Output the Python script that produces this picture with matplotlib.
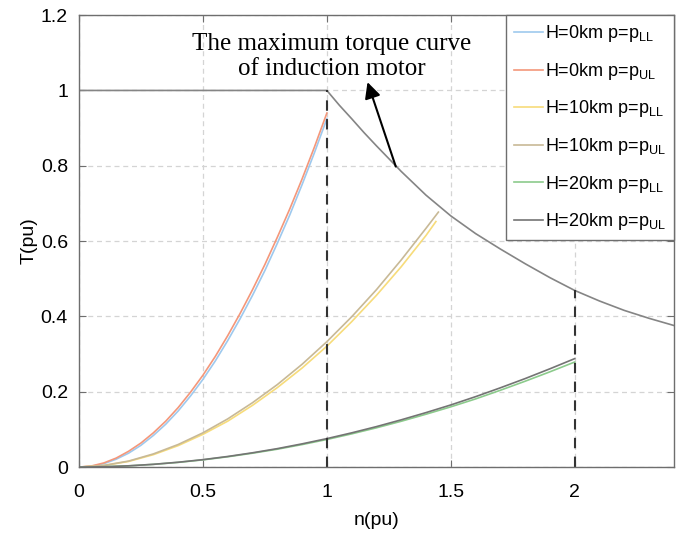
import matplotlib
matplotlib.use('Agg')
import matplotlib.pyplot as plt
from matplotlib.ticker import FuncFormatter

# speed grids (pu)
n_0km = [0.0, 0.05, 0.1, 0.15, 0.2, 0.25, 0.3, 0.35, 0.4, 0.45, 0.5,
         0.55, 0.6, 0.65, 0.7, 0.75, 0.8, 0.85, 0.9, 0.95, 1.0]
n_10km_ul = [0.0, 0.1, 0.2, 0.3, 0.4, 0.5, 0.6, 0.7, 0.8, 0.9, 1.0, 1.1, 1.2, 1.3, 1.4, 1.45]
n_10km_ll = [0.0, 0.1, 0.2, 0.3, 0.4, 0.5, 0.6, 0.7, 0.8, 0.9, 1.0, 1.1, 1.2, 1.3, 1.4, 1.44]
n_20km = [0.0, 0.1, 0.2, 0.3, 0.4, 0.5, 0.6, 0.7, 0.8, 0.9, 1.0,
          1.1, 1.2, 1.3, 1.4, 1.5, 1.6, 1.7, 1.8, 1.9, 2.0]

# torque curves (pu)
t_0km_ll = [0, 0.002, 0.009, 0.021, 0.037, 0.058, 0.084, 0.114, 0.149, 0.189, 0.233,
            0.282, 0.336, 0.394, 0.456, 0.522, 0.594, 0.669, 0.750, 0.835, 0.925]
t_0km_ul = [0, 0.003, 0.011, 0.024, 0.042, 0.064, 0.091, 0.122, 0.158, 0.199, 0.244,
            0.294, 0.349, 0.408, 0.471, 0.538, 0.610, 0.685, 0.765, 0.850, 0.940]
t_10km_ll = [0, 0.004, 0.015, 0.033, 0.057, 0.087, 0.122, 0.164, 0.211, 0.263,
             0.321, 0.386, 0.456, 0.532, 0.615, 0.652]
t_10km_ul = [0, 0.0045, 0.016, 0.035, 0.060, 0.091, 0.128, 0.171, 0.219, 0.273,
             0.333, 0.399, 0.471, 0.550, 0.634, 0.677]
t_20km_ll = [0, 0.0009, 0.0033, 0.0072, 0.0125, 0.0192, 0.0274, 0.0369, 0.0475, 0.0598,
             0.0733, 0.0882, 0.1043, 0.1217, 0.1404, 0.160, 0.181, 0.204, 0.228, 0.253, 0.279]
t_20km_ul = [0, 0.0009, 0.0034, 0.0074, 0.0129, 0.0198, 0.0282, 0.038, 0.049, 0.0617,
             0.0756, 0.0909, 0.1075, 0.1255, 0.1447, 0.165, 0.187, 0.2105, 0.235, 0.261, 0.288]

# maximum torque curve of the induction motor
n_max = [0.0, 1.0, 1.05, 1.1, 1.15, 1.2, 1.3, 1.4, 1.5, 1.6, 1.7, 1.8, 1.9, 2.0,
         2.1, 2.2, 2.3, 2.4]
t_max = [1.0, 1.0, 0.961, 0.925, 0.888, 0.853, 0.785, 0.722, 0.667, 0.620, 0.579,
         0.540, 0.503, 0.469, 0.441, 0.416, 0.395, 0.376]

labels = [r'H=0km p=$\mathregular{p_{LL}}$', r'H=0km p=$\mathregular{p_{UL}}$',
          r'H=10km p=$\mathregular{p_{LL}}$', r'H=10km p=$\mathregular{p_{UL}}$',
          r'H=20km p=$\mathregular{p_{LL}}$', r'H=20km p=$\mathregular{p_{UL}}$']
colors = ['#9ec9ee', '#f4977a', '#f7dc7a', '#c8b996', '#8ccb8c', '#747474']

plt.rcParams['font.family'] = ['Liberation Sans', 'DejaVu Sans']
plt.rcParams['mathtext.fontset'] = 'custom'
plt.rcParams['mathtext.rm'] = 'Liberation Sans'

fig = plt.figure(figsize=(6.89, 5.40), dpi=100)
ax = fig.add_axes([0.1147, 0.135, 0.8633, 0.837])

ax.plot(n_0km, t_0km_ll, color=colors[0], lw=1.2, label=labels[0])
ax.plot(n_0km, t_0km_ul, color=colors[1], lw=1.2, label=labels[1])
ax.plot(n_10km_ll, t_10km_ll, color=colors[2], lw=1.2, label=labels[2])
ax.plot(n_10km_ul, t_10km_ul, color=colors[3], lw=1.2, label=labels[3])
ax.plot(n_20km, t_20km_ll, color=colors[4], lw=1.2, label=labels[4])
ax.plot(n_20km, t_20km_ul, color=colors[5], lw=1.2, label=labels[5])

ax.plot(n_max, t_max, color='#858585', lw=1.2)

# vertical dashed markers at n=1 and n=2
ax.plot([1, 1], [0, 1.0], color='#333333', lw=1.5, dashes=(5, 4))
ax.plot([2, 2], [0, t_max[n_max.index(2.0)]], color='#333333', lw=1.5, dashes=(5, 4))

ax.annotate('', xy=(1.164, 1.022), xytext=(1.278, 0.798),
            arrowprops=dict(arrowstyle='-|>', color='black', lw=1.5,
                            mutation_scale=24, shrinkA=0, shrinkB=0))
ax.text(1.02, 1.09, 'The maximum torque curve\nof induction motor',
        family=['Liberation Serif', 'DejaVu Serif'], fontsize=18,
        ha='center', va='center', linespacing=1.2)

ax.set_xlim(0, 2.4)
ax.set_ylim(0, 1.2)
ax.set_xticks([0, 0.5, 1, 1.5, 2])
ax.set_yticks([0, 0.2, 0.4, 0.6, 0.8, 1.0, 1.2])
ax.xaxis.set_major_formatter(FuncFormatter(lambda v, p: f'{v:g}'))
ax.yaxis.set_major_formatter(FuncFormatter(lambda v, p: f'{v:g}'))
ax.tick_params(direction='in', top=True, right=True, labelsize=14,
               color='#6e6e6e', length=5)
ax.tick_params(axis='x', pad=12)
ax.tick_params(axis='y', pad=8)
ax.grid(True, color='#d4d4d4', lw=0.9, dashes=(4, 3))
for s in ax.spines.values():
    s.set_color('#6e6e6e')
    s.set_linewidth(1.0)

ax.set_xlabel('n(pu)', fontsize=14, labelpad=8)
ax.set_ylabel('T(pu)', fontsize=14, labelpad=2)

leg = ax.legend(loc='upper right', fontsize=13, frameon=True, fancybox=False,
                edgecolor='#6e6e6e', framealpha=1, handlelength=1.6,
                handletextpad=0.1, labelspacing=0.92, borderaxespad=0.0,
                borderpad=0.45)
leg.get_frame().set_linewidth(1.0)

fig.savefig('out.png', dpi=100)
